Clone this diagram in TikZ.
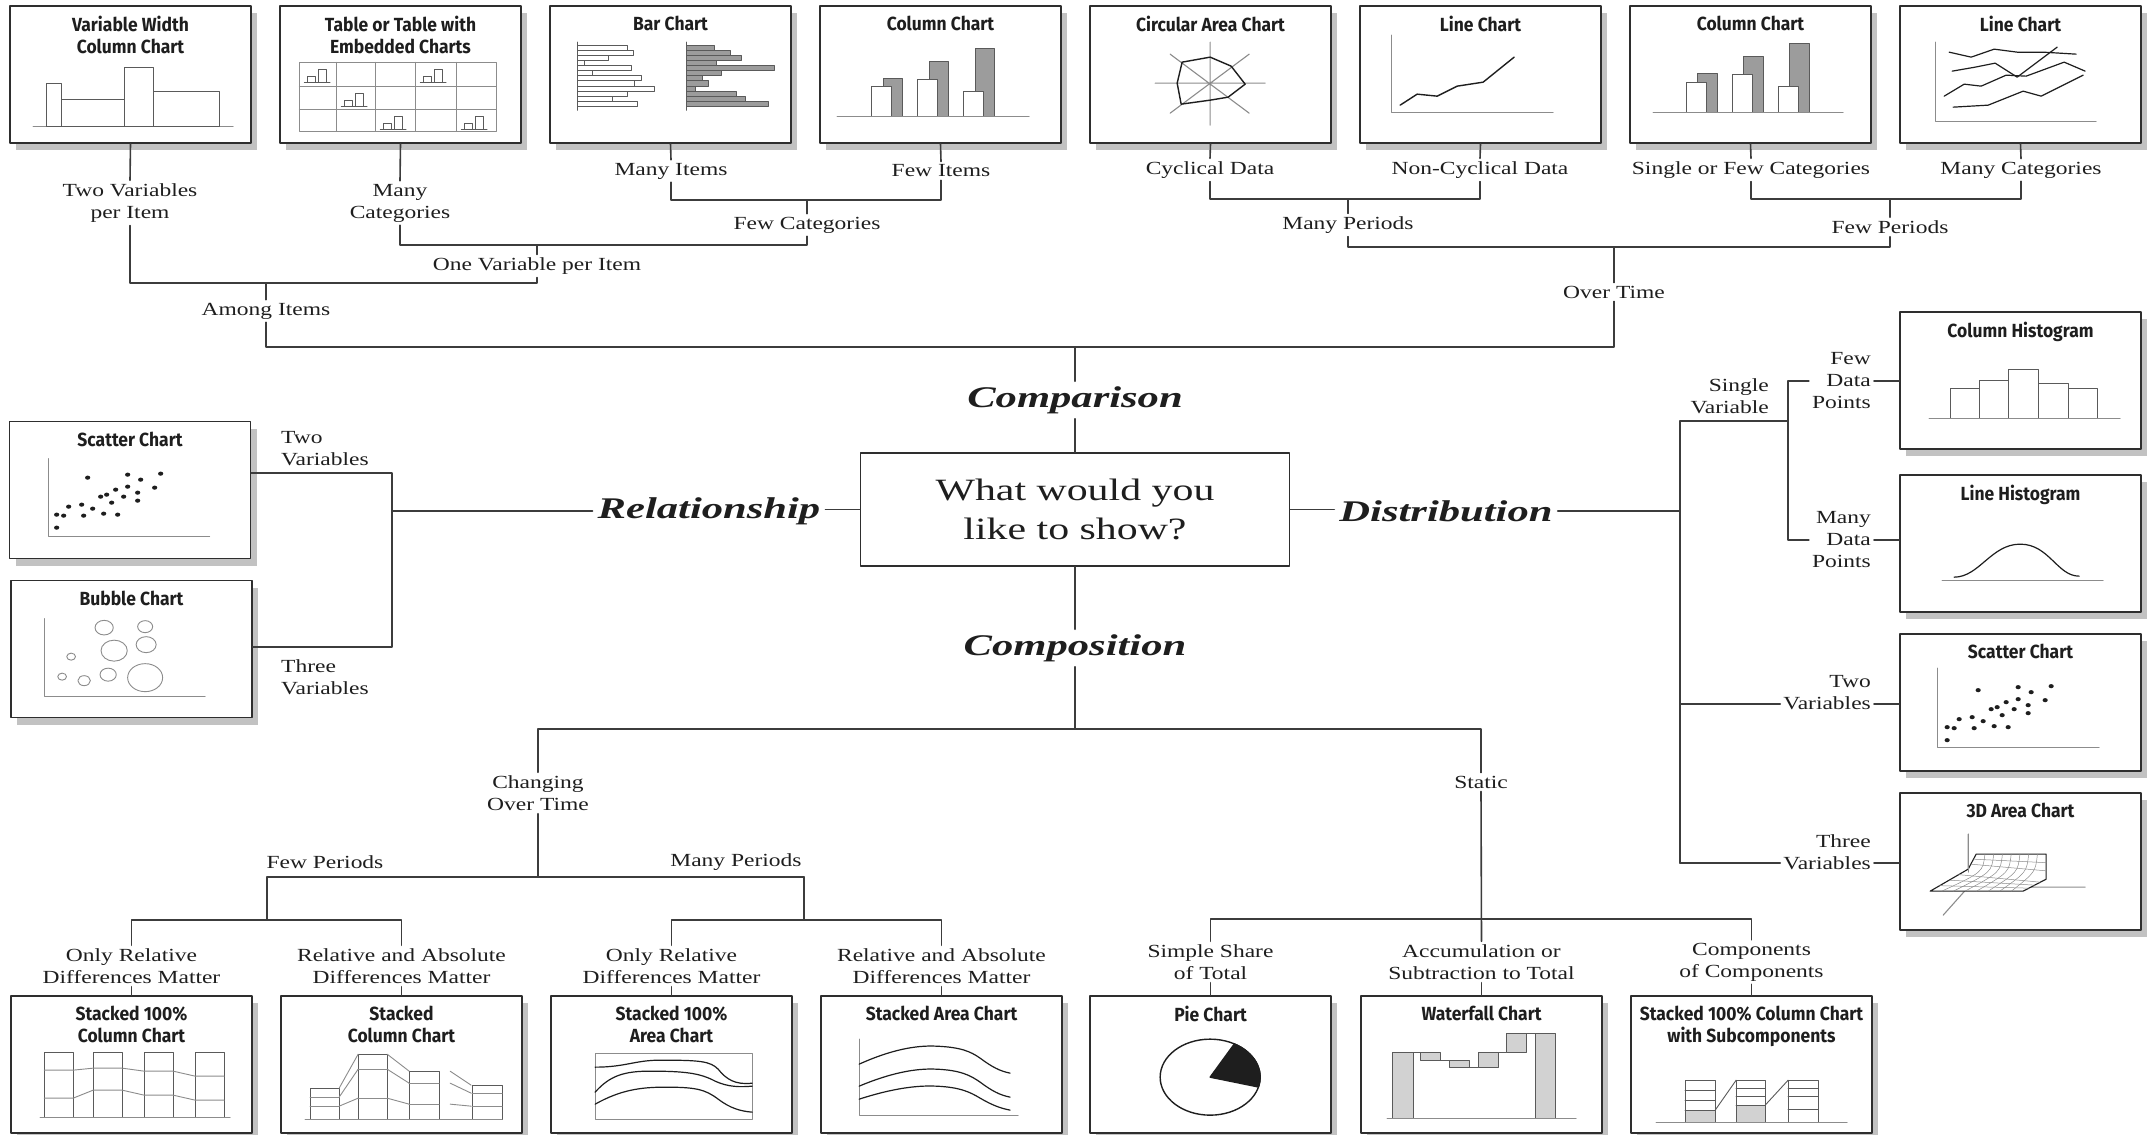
\documentclass[tikz,border=0pt]{standalone}
\usepackage{fontspec}
\setmainfont{Liberation Serif}[FakeStretch=1.27]
\newfontfamily\qfamily{Liberation Serif}[FakeStretch=1.35]
\newfontfamily\catfamily{Liberation Serif}[FakeStretch=1.42]
\newfontfamily\chtitlefont{Fira Sans}[FakeStretch=0.92]
\usetikzlibrary{shadows}
\definecolor{ink}{HTML}{1E1E1E}
\definecolor{connline}{HTML}{3C3C3C}
\definecolor{boxline}{HTML}{2E2E2E}
\definecolor{shadowgray}{HTML}{C2C2C2}
\definecolor{chartgray}{HTML}{5A5A5A}
\definecolor{axisgray}{HTML}{8C8C8C}
\definecolor{barfill}{HTML}{9C9C9C}
\definecolor{lightfill}{HTML}{D2D2D2}
\newcommand\labfont{\fontsize{18.5}{22}\selectfont}
\newcommand\catfont{\catfamily\fontsize{30}{34}\selectfont\bfseries\itshape}
\newcommand\qfont{\qfamily\fontsize{31}{39}\selectfont}
\newcommand\ttlfont{\chtitlefont\bfseries\fontsize{19}{22}\selectfont}
% dots of the two scatter charts
\newcommand\scatterdots{%
  \foreach \px/\py in {79/57,119/54,132/59,152/53,146/67,119/66,107/69,98/74,115/76,
      129/72,129/80,103/82,92/76,73/84,60/86,84/88,95/93,109/94,75/95,55/95,48/94,48/107}
    \fill[ink] (\px,\py) ellipse (2.6 and 2.1);}
\begin{document}
\begin{tikzpicture}[x=1pt,y=-1pt,line cap=round,line join=round,
  chartbox/.style={draw=boxline,line width=1.7pt,fill=white,minimum width=241pt,
    minimum height=137pt,inner sep=0pt,
    general shadow={fill=shadowgray,shadow xshift=6pt,shadow yshift=-7pt}},
  charttitle/.style={anchor=north,inner sep=0pt,align=center,font=\ttlfont,text=ink},
  lab/.style={inner sep=3pt,align=center,font=\labfont,text=ink},
  cat/.style={inner sep=5pt,font=\catfont,text=ink},
  conn/.style={draw=connline,line width=1.6pt},
  axisline/.style={draw=axisgray,line width=1.1pt},
  barline/.style={draw=chartgray,line width=0.9pt},
  darkline/.style={draw=ink,line width=1.4pt},
  softline/.style={draw=axisgray,line width=0.9pt},
  gridline/.style={draw=axisgray,line width=0.5pt}]
\useasboundingbox (0,0) rectangle (2153,1135);
\fill[white] (0,0) rectangle (2153,1135);

% chart boxes, top row
\node[chartbox] (T1) at (130.5,74.5) {};
\node[charttitle] (tT1) at ([yshift=-11pt]T1.north) {Variable Width\\Column Chart};
\node[chartbox] (T2) at (400.5,74.5) {};
\node[charttitle] (tT2) at ([yshift=-11pt]T2.north) {Table or Table with\\Embedded Charts};
\node[chartbox] (T3) at (670.5,74.5) {};
\node[charttitle] (tT3) at ([yshift=-11pt]T3.north) {Bar Chart};
\node[chartbox] (T4) at (940.5,74.5) {};
\node[charttitle] (tT4) at ([yshift=-11pt]T4.north) {Column Chart};
\node[chartbox] (T5) at (1210.5,74.5) {};
\node[charttitle] (tT5) at ([yshift=-11pt]T5.north) {Circular Area Chart};
\node[chartbox] (T6) at (1480.5,74.5) {};
\node[charttitle] (tT6) at ([yshift=-11pt]T6.north) {Line Chart};
\node[chartbox] (T7) at (1750.5,74.5) {};
\node[charttitle] (tT7) at ([yshift=-11pt]T7.north) {Column Chart};
\node[chartbox] (T8) at (2020.5,74.5) {};
\node[charttitle] (tT8) at ([yshift=-11pt]T8.north) {Line Chart};

% relationship boxes
\node[chartbox] (R1) at (130,490) {};
\node[charttitle] (tR1) at ([yshift=-11pt]R1.north) {Scatter Chart};
\node[chartbox] (R2) at (131.5,649) {};
\node[charttitle] (tR2) at ([yshift=-11pt]R2.north) {Bubble Chart};

% distribution boxes
\node[chartbox] (D1) at (2020.5,380.5) {};
\node[charttitle] (tD1) at ([yshift=-11pt]D1.north) {Column Histogram};
\node[chartbox] (D2) at (2020.5,543.5) {};
\node[charttitle] (tD2) at ([yshift=-11pt]D2.north) {Line Histogram};
\node[chartbox] (D3) at (2020.5,702.5) {};
\node[charttitle] (tD3) at ([yshift=-11pt]D3.north) {Scatter Chart};
\node[chartbox] (D4) at (2020.5,861.5) {};
\node[charttitle] (tD4) at ([yshift=-11pt]D4.north) {3D Area Chart};

% composition boxes
\node[chartbox] (B1) at (131.5,1064.5) {};
\node[charttitle] (tB1) at ([yshift=-11pt]B1.north) {Stacked 100\%\\Column Chart};
\node[chartbox] (B2) at (401.5,1064.5) {};
\node[charttitle] (tB2) at ([yshift=-11pt]B2.north) {Stacked\\Column Chart};
\node[chartbox] (B3) at (671.5,1064.5) {};
\node[charttitle] (tB3) at ([yshift=-11pt]B3.north) {Stacked 100\%\\Area Chart};
\node[chartbox] (B4) at (941.5,1064.5) {};
\node[charttitle] (tB4) at ([yshift=-11pt]B4.north) {Stacked Area Chart};
\node[chartbox] (B5) at (1210.5,1064.5) {};
\node[charttitle] (tB5) at ([yshift=-11pt]B5.north) {Pie Chart};
\node[chartbox] (B6) at (1481.5,1064.5) {};
\node[charttitle] (tB6) at ([yshift=-11pt]B6.north) {Waterfall Chart};
\node[chartbox] (B7) at (1751.5,1064.5) {};
\node[charttitle] (tB7) at ([yshift=-11pt]B7.north) {Stacked 100\% Column Chart\\with Subcomponents};

% small charts
\begin{scope}[shift={(T1.north west)}]
  \draw[axisline] (24,121) -- (224,121);
  \draw[barline] (37,121) rectangle (52,78) (52,121) rectangle (115,94)
    (115,121) rectangle (144,62) (144,121) rectangle (210,86);
\end{scope}
\begin{scope}[shift={(T2.north west)}]
  \draw[gridline] (20,57) rectangle (217,126);
  \foreach \gx in {57,96,136,177} \draw[gridline] (\gx,57) -- (\gx,126);
  \foreach \gy in {81,104} \draw[gridline] (20,\gy) -- (217,\gy);
  \foreach \cx/\cy in {20/57,136/57,57/81,96/104,177/104}{
    \draw[barline,line width=0.6pt] ({\cx+5},{\cy+20}) -- ({\cx+31},{\cy+20});
    \draw[barline,line width=0.6pt] ({\cx+8},{\cy+20}) rectangle ({\cx+16},{\cy+14});
    \draw[barline,line width=0.6pt] ({\cx+19},{\cy+20}) rectangle ({\cx+27},{\cy+7});}
\end{scope}
\begin{scope}[shift={(T3.north west)}]
  \foreach \w [count=\i from 0] in {78,84,59,35,82,43,92,85,105,78,63,88}
    \draw[barline] (28,{40+5.1*\i}) rectangle (\w,{45.1+5.1*\i});
  \foreach \w [count=\i from 0] in {165,181,192,167,225,172,153,159,146,187,196,219}
    \filldraw[barline,fill=barfill] (137,{40+5.1*\i}) rectangle (\w,{45.1+5.1*\i});
  \draw[barline,line width=1.3pt] (28,37) -- (28,105);
  \draw[barline,line width=1.3pt] (137,37) -- (137,105);
\end{scope}
\begin{scope}[shift={(T4.north west)}]
  \foreach \xw/\hw/\xg/\hg in {52/81/64/73,98/74/110/56,144/86/156/43}{
    \filldraw[barline,fill=barfill] (\xg,111) rectangle ({\xg+19},\hg);
    \filldraw[barline,fill=white] (\xw,111) rectangle ({\xw+20},\hw);}
  \draw[axisline] (18,111) -- (210,111);
\end{scope}
\begin{scope}[shift={(T5.north west)}]
  \draw[axisline] (66,78) -- (176,78) (121,37) -- (121,120)
    (81,49) -- (160,108) (81,108) -- (160,49);
  \draw[darkline] (93,57) -- (121,52) -- (142,61) -- (156,79) -- (139,92)
    -- (121,95) -- (92,99) -- (88,78) -- cycle;
\end{scope}
\begin{scope}[shift={(T6.north west)}]
  \draw[axisline] (32,30) -- (32,107) -- (194,107);
  \draw[darkline] (41,100) -- (58,89) -- (78,91) -- (98,81) -- (124,77) -- (155,52);
\end{scope}
\begin{scope}[shift={(T7.north west)}]
  \foreach \xw/\hw/\xg/\hg in {57/77/68/68,103/69/114/51,149/81/160/38}{
    \filldraw[barline,fill=barfill] (\xg,107) rectangle ({\xg+20},\hg);
    \filldraw[barline,fill=white] (\xw,107) rectangle ({\xw+20},\hw);}
  \draw[axisline] (24,107) -- (214,107);
\end{scope}
\begin{scope}[shift={(T8.north west)}]
  \draw[axisline] (36,37) -- (36,116) -- (197,116);
  \draw[darkline,line width=1.2pt] (50,47) -- (72,52) -- (95,44) -- (118,47) -- (144,47) -- (177,49);
  \draw[darkline,line width=1.2pt] (53,66) -- (76,62) -- (96,58) -- (118,72) -- (158,42);
  \draw[darkline,line width=1.2pt] (45,91) -- (65,79) -- (82,81) -- (107,70) -- (127,71) -- (165,57) -- (186,66);
  \draw[darkline,line width=1.2pt] (54,102) -- (89,100) -- (124,86) -- (142,91) -- (184,70);
\end{scope}
\begin{scope}[shift={(R1.north west)}]
  \draw[axisline] (40,38) -- (40,116) -- (201,116);
  \scatterdots
\end{scope}
\begin{scope}[shift={(R2.north west)}]
  \draw[axisline] (34,39) -- (34,117) -- (195,117);
  \foreach \bx/\by/\br in {94/48/7.3,135/47/6,104/71/10.5,136/65/8,61/77/3.5,
      52/97/3.5,74/101/5,98/95/6.5,135/98/14}
    \draw[softline] (\bx,\by) ellipse ({1.25*\br} and \br);
\end{scope}
\begin{scope}[shift={(D1.north west)}]
  \draw[barline] (51,107) rectangle (80,77) (80,107) rectangle (109,69)
    (109,107) rectangle (139,58) (139,107) rectangle (169,72) (169,107) rectangle (198,77);
  \draw[axisline] (30,107) -- (221,107);
\end{scope}
\begin{scope}[shift={(D2.north west)}]
  \draw[axisline] (43,106) -- (204,106);
  \draw[darkline,line width=1.2pt] (55,103) .. controls (80,103) and (92,70) .. (121,70)
    .. controls (150,70) and (158,102) .. (180,102);
\end{scope}
\begin{scope}[shift={(D3.north west)}]
  \draw[axisline] (38,35) -- (38,114) -- (200,114);
  \scatterdots
\end{scope}
\begin{scope}[shift={(D4.north west)}]
  \draw[axisline] (69,42) -- (69,95) -- (186,95) (69,95) -- (44,123);
  \filldraw[darkline,line width=1.1pt,fill=white] (77,62) -- (147,62) -- (147,87) -- (124,99)
    -- (31,99) -- (69,77) -- cycle;
  \foreach \k in {1,...,7}
    \draw[gridline] ({77+8.75*\k},62) .. controls ({75+8.75*\k},80) .. ({31+11.6*\k},99);
  \draw[gridline] (40.5,93.5) -- (129.7,96) (50,88) -- (135.5,93) (59.5,82.5) -- (141,90)
    (71.7,72) -- (147,78.7) (74.3,67) -- (147,70.5);
  \draw[axisline] (69,42) -- (69,80);
\end{scope}
\begin{scope}[shift={(B1.north west)}]
  \foreach \cx in {34,83,134,185}
    \draw[barline,line width=1.2pt] (\cx,122) rectangle ({\cx+29},57);
  \draw[softline] (34,75) -- (63,75) -- (83,73) -- (112,73) -- (134,76) -- (163,76) -- (185,81) -- (214,81);
  \draw[softline] (34,103) -- (63,103) -- (83,95) -- (112,95) -- (134,100) -- (163,100) -- (185,105) -- (214,105);
  \draw[axisline] (30,122) -- (220,122);
\end{scope}
\begin{scope}[shift={(B2.north west)}]
  \draw[barline,line width=1.2pt] (30,124) rectangle (59,93) (78,124) rectangle (107,59)
    (129,124) rectangle (159,76) (192,124) rectangle (222,90);
  \draw[softline] (30,102) -- (59,102) (30,111) -- (59,111) (78,74) -- (107,74) (78,103) -- (107,103)
    (129,88) -- (159,88) (129,109) -- (159,109) (192,98) -- (222,98) (192,111) -- (222,111);
  \draw[softline] (59,93) -- (78,59) (59,102) -- (78,74) (59,111) -- (78,103)
    (107,59) -- (129,76) (107,74) -- (129,88) (107,103) -- (129,109)
    (170,76) -- (191,90) (170,88) -- (191,98) (170,109) -- (191,111);
  \draw[axisline] (25,124) -- (222,124);
\end{scope}
\begin{scope}[shift={(B3.north west)}]
  \draw[softline] (45,58) rectangle (202,124);
  \draw[darkline,line width=1.2pt] (45,72) .. controls (75,72) and (85,65) .. (110,65)
    .. controls (150,65) and (160,66) .. (168,74) .. controls (176,84) and (185,90) .. (202,88);
  \draw[darkline,line width=1.2pt] (45,97) .. controls (60,80) and (75,76) .. (100,76)
    .. controls (135,76) and (150,78) .. (165,86) .. controls (178,92) and (190,92) .. (202,91);
  \draw[darkline,line width=1.2pt] (45,109) .. controls (70,95) and (90,92) .. (115,92)
    .. controls (145,92) and (155,94) .. (168,104) .. controls (180,113) and (190,116) .. (202,117);
\end{scope}
\begin{scope}[shift={(B4.north west)}]
  \draw[axisline] (39,44) -- (39,120) -- (198,120);
  \draw[darkline,line width=1.2pt] (39,69) .. controls (70,55) and (95,50) .. (116,51)
    .. controls (140,52) and (150,56) .. (160,63) .. controls (172,72) and (180,76) .. (190,78);
  \draw[darkline,line width=1.2pt] (39,91) .. controls (70,78) and (95,73) .. (116,74)
    .. controls (140,75) and (150,80) .. (160,87) .. controls (172,96) and (180,100) .. (190,102);
  \draw[darkline,line width=1.2pt] (39,104) .. controls (70,94) and (95,90) .. (116,91)
    .. controls (140,92) and (150,97) .. (160,103) .. controls (172,110) and (180,113) .. (190,115);
\end{scope}
\begin{scope}[shift={(B5.north west)}]
  \draw[darkline,fill=white] (121,82) ellipse (50 and 38);
  \filldraw[darkline,fill=ink] (121,82) -- ++(-61:50 and 38)
    arc[start angle=-61,end angle=15,x radius=50,y radius=38] -- cycle;
\end{scope}
\begin{scope}[shift={(B6.north west)}]
  \filldraw[barline,fill=lightfill] (32,123) rectangle (53,57) (60,57) rectangle (80,65)
    (89,65) rectangle (109,72) (118,72) rectangle (138,57) (146,57) rectangle (166,38)
    (175,123) rectangle (195,38);
  \draw[barline] (53,57) -- (60,57) (80,65) -- (89,65) (109,72) -- (118,72)
    (138,57) -- (146,57) (166,38) -- (175,38);
  \draw[axisline] (27,123) -- (216,123);
\end{scope}
\begin{scope}[shift={(B7.north west)}]
  \fill[lightfill] (55,127) rectangle (85,115) (106,127) rectangle (135,110);
  \draw[barline] (55,127) rectangle (85,85) (106,127) rectangle (135,85) (158,127) rectangle (188,85);
  \draw[barline] (55,95) -- (85,95) (55,105) -- (85,105) (55,115) -- (85,115)
    (106,93) -- (135,93) (106,101) -- (135,101) (106,110) -- (135,110)
    (158,93) -- (188,93) (158,101) -- (188,101) (158,114) -- (188,114);
  \draw[barline] (85,115) -- (106,85) (135,110) -- (158,85);
  \draw[axisline] (26,127) -- (217,127);
\end{scope}

% centre and main branches
\node[draw=boxline,line width=1.7pt,minimum width=429pt,minimum height=113pt,inner sep=0pt,
  align=center,font=\qfont,text=ink] (Q) at (1075,509.5) {What would you\\like to show?};
\node[cat] (lComparison) at (1075,400) {Comparison};
\node[cat] (lRelationship) at (709,511) {Relationship};
\node[cat] (lDistribution) at (1446,511) {Distribution};
\node[cat] (lComposition) at (1075,648) {Composition};

% comparison labels
\node[lab] (lTwoItem) at (130,203) {Two Variables\\per Item};
\node[lab] (lManyCat) at (400,203) {Many\\Categories};
\node[lab] (lManyItems) at (671,171) {Many Items};
\node[lab] (lFewItems) at (941,171) {Few Items};
\node[lab] (lFewCat) at (807,225) {Few Categories};
\node[lab] (lOneVar) at (537,266) {One Variable per Item};
\node[lab] (lAmong) at (266,311) {Among Items};
\node[lab] (lCyc) at (1210,170) {Cyclical Data};
\node[lab] (lNonCyc) at (1480,170) {Non-Cyclical Data};
\node[lab] (lSingleFew) at (1751,170) {Single or Few Categories};
\node[lab] (lManyCatT) at (2021,170) {Many Categories};
\node[lab] (lManyPer) at (1348,225) {Many Periods};
\node[lab] (lFewPer) at (1890,227) {Few Periods};
\node[lab] (lOverTime) at (1614,292) {Over Time};

% relationship labels
\node[lab,align=left,anchor=west] (lTwoR) at (278,449) {Two\\Variables};
\node[lab,align=left,anchor=west] (lThreeR) at (278,677) {Three\\Variables};

% distribution labels
\node[lab,align=right,anchor=east] (lSingle) at (1772,396) {Single\\Variable};
\node[lab,align=right,anchor=east] (lFewDP) at (1874,381) {Few\\Data\\Points};
\node[lab,align=right,anchor=east] (lManyDP) at (1874,540) {Many\\Data\\Points};
\node[lab,align=right,anchor=east] (lTwoD) at (1874,693) {Two\\Variables};
\node[lab,align=right,anchor=east] (lThreeD) at (1874,852) {Three\\Variables};

% composition labels
\node[lab] (lChanging) at (538,793) {Changing\\Over Time};
\node[lab] (lFewPerB) at (325,862) {Few Periods};
\node[lab] (lManyPerB) at (736,862) {Many Periods};
\node[lab] (lOnlyA) at (131.5,966) {Only Relative\\Differences Matter};
\node[lab] (lRelAbsA) at (401.5,966) {Relative and Absolute\\Differences Matter};
\node[lab] (lOnlyB) at (671.5,966) {Only Relative\\Differences Matter};
\node[lab] (lRelAbsB) at (941.5,966) {Relative and Absolute\\Differences Matter};
\node[lab] (lStatic) at (1481,782) {Static};
\node[lab] (lShare) at (1210.5,962) {Simple Share\\of Total};
\node[lab] (lAccum) at (1481.5,962) {Accumulation or\\Subtraction to Total};
\node[lab] (lCompComp) at (1751.5,962) {Components\\of Components};

% junctions
\coordinate (jOneVar) at (537,283);
\coordinate (jFewCat) at (807,245);
\coordinate (jItems) at (807,200);
\coordinate (jOver) at (1614,347);
\coordinate (jComp) at (1075,347);
\coordinate (jPer) at (1348,199);
\coordinate (jFewPer) at (1890,199);
\coordinate (jTime) at (1614,247);
\coordinate (jRel) at (392,511);
\coordinate (jRelA) at (392,473);
\coordinate (jRelB) at (392,647);
\coordinate (jDist) at (1680,511);
\coordinate (jSingle) at (1680,421);
\coordinate (jSV) at (1788,421);
\coordinate (jTwoD) at (1680,704);
\coordinate (jThree) at (1680,863);
\coordinate (jComp2) at (1075,729);
\coordinate (jStaticTop) at (1481,729);
\coordinate (jChg) at (538,877);
\coordinate (jFewB) at (267,877);
\coordinate (jManyB) at (804,877);
\coordinate (jA) at (267,920);
\coordinate (jB) at (804,920);
\coordinate (jStatic) at (1481,919);

% comparison tree
\draw[conn] (T1.south) -- (lTwoItem.north);
\draw[conn] (lTwoItem.south) |- (jOneVar) -- (lOneVar.south);
\draw[conn] (lAmong.north) -- (lAmong.north |- jOneVar);
\draw[conn] (T2.south) -- (lManyCat.north);
\draw[conn] (lManyCat.south) |- (jFewCat) -- (lFewCat.south);
\draw[conn] (lOneVar.north) -- (lOneVar.north |- jFewCat);
\draw[conn] (T3.south) -- (lManyItems.north);
\draw[conn] (T4.south) -- (lFewItems.north);
\draw[conn] (lManyItems.south) |- (jItems) -| (lFewItems.south);
\draw[conn] (lFewCat.north) -- (jItems);
\draw[conn] (T5.south) -- (lCyc.north);
\draw[conn] (T6.south) -- (lNonCyc.north);
\draw[conn] (lCyc.south) |- (jPer) -| (lNonCyc.south);
\draw[conn] (lManyPer.north) -- (jPer);
\draw[conn] (T7.south) -- (lSingleFew.north);
\draw[conn] (T8.south) -- (lManyCatT.north);
\draw[conn] (lSingleFew.south) |- (jFewPer) -| (lManyCatT.south);
\draw[conn] (lFewPer.north) -- (jFewPer);
\draw[conn] (lManyPer.south) |- (jTime) -| (lFewPer.south);
\draw[conn] (lOverTime.north) -- (jTime);
\draw[conn] (lAmong.south) |- (jOver) -- (lOverTime.south);
\draw[conn] (jComp) -- (lComparison.north);
\draw[conn] (lComparison.south) -- (Q.north);

% relationship tree
\draw[conn] (Q.west) -- (Q.west -| lRelationship.east);
\draw[conn] (lRelationship.west) -- (jRel);
\draw[conn] (R1.east |- jRelA) -- (jRelA) -- (jRelB) -- (R2.east |- jRelB);

% distribution tree
\draw[conn] (Q.east) -- (Q.east -| lDistribution.west);
\draw[conn] (lDistribution.east) -- (jDist);
\draw[conn] (jSingle) -- (jThree);
\draw[conn] (jSingle) -- (jSV);
\draw[conn] (lFewDP.west) -| (jSV) |- (lManyDP.west);
\draw[conn] (lFewDP.east) -- (lFewDP.east -| D1.west);
\draw[conn] (lManyDP.east) -- (lManyDP.east -| D2.west);
\draw[conn] (jTwoD) -- (lTwoD.west |- jTwoD);
\draw[conn] (lTwoD.east |- jTwoD) -- (D3.west |- jTwoD);
\draw[conn] (jThree) -- (lThreeD.west |- jThree);
\draw[conn] (lThreeD.east |- jThree) -- (D4.west |- jThree);

% composition tree
\draw[conn] (Q.south) -- (lComposition.north);
\draw[conn] (lComposition.south) -- (jComp2);
\draw[conn] (lChanging.north) |- (jStaticTop) -- (lStatic.north);
\draw[conn] (lChanging.south) -- (jChg);
\draw[conn] (jFewB) -- (jManyB);
\draw[conn] (jFewB) -- (jA);
\draw[conn] (jManyB) -- (jB);
\draw[conn] (lOnlyA.north) |- (jA) -| (lRelAbsA.north);
\draw[conn] (lOnlyB.north) |- (jB) -| (lRelAbsB.north);
\draw[conn] (lOnlyA.south) -- (B1.north);
\draw[conn] (lRelAbsA.south) -- (B2.north);
\draw[conn] (lOnlyB.south) -- (B3.north);
\draw[conn] (lRelAbsB.south) -- (B4.north);
\draw[conn] (lStatic.south) -- (lAccum.north);
\draw[conn] (lShare.north) |- (jStatic) -| (lCompComp.north);
\draw[conn] (lShare.south) -- (B5.north);
\draw[conn] (lAccum.south) -- (B6.north);
\draw[conn] (lCompComp.south) -- (B7.north);
\end{tikzpicture}
\end{document}
